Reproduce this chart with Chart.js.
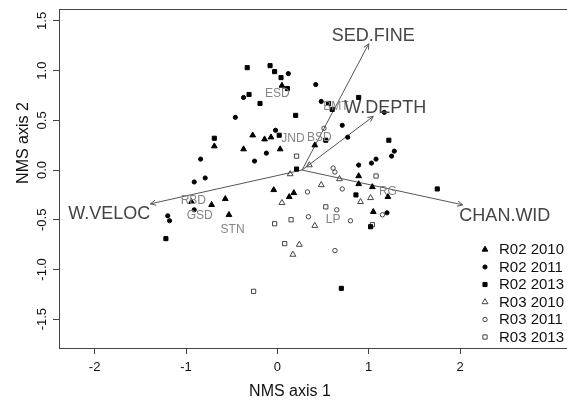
<!DOCTYPE html>
<html>
<head>
<meta charset="utf-8">
<script src="https://cdn.jsdelivr.net/npm/chart.js@4.4.1/dist/chart.umd.min.js"></script>
<style>
html, body { margin: 0; padding: 0; background: #fff; overflow: hidden; }
#wrap { width: 567px; height: 402px; }
</style>
</head>
<body>
<div id="wrap"><canvas id="nms" width="567" height="402"></canvas></div>
<script>
// NMS site scores: [axis 1, axis 2]
const r02y2010 = [[0.05, 0.85], [-0.69, 0.24], [-0.27, 0.35], [-0.14, 0.31], [-0.07, 0.33], [-0.37, 0.21],
    [0.03, 0.21], [-0.04, -0.20], [0.18, -0.23], [0.13, -0.27], [-0.57, -0.29], [-0.94, -0.32], [-0.72, -0.35],
    [-0.53, -0.45], [0.41, 0.25], [0.89, -0.06], [0.89, -0.14], [1.04, -0.17], [1.21, -0.27], [1.05, -0.42]];
const r02y2011 = [[0.12, 0.97], [-0.37, 0.73], [-0.46, 0.53], [0.42, 0.86], [-0.02, 0.40], [-0.12, 0.17],
    [-0.25, 0.09], [-0.84, 0.11], [-0.79, -0.08], [-0.91, -0.12], [-0.91, -0.40], [-1.20, -0.46], [-1.18, -0.51],
    [0.48, 0.69], [0.71, 0.45], [0.77, 0.33], [1.28, 0.19], [1.25, 0.14], [1.08, 0.11], [1.03, 0.07],
    [0.89, 0.05], [1.20, -0.43], [1.17, 0.58]];
const r02y2013 = [[-0.33, 1.03], [-0.08, 1.05], [-0.03, 0.99], [0.04, 0.93], [0.11, 0.82], [-0.31, 0.76],
    [-0.19, 0.67], [0.20, 0.55], [-0.69, 0.32], [0.02, 0.35], [0.21, 0.01], [-1.22, -0.69], [0.56, 0.67],
    [0.60, 0.61], [0.89, 0.73], [0.53, 0.30], [1.22, 0.30], [0.86, -0.25], [1.02, -0.57], [1.75, -0.19],
    [0.70, -1.19]];
const r03y2010 = [[0.35, 0.05], [0.14, -0.04], [0.05, -0.33], [0.41, -0.56], [0.24, -0.75], [0.17, -0.85],
    [0.68, -0.09], [0.48, -0.15], [0.91, -0.32], [1.02, -0.28]];
const r03y2011 = [[0.51, 0.42], [0.61, 0.02], [0.63, -0.02], [0.33, -0.22], [0.71, -0.19], [0.34, -0.47],
    [0.65, -0.40], [0.80, -0.51], [1.15, -0.45], [0.63, -0.81]];
const r03y2013 = [[0.21, 0.14], [1.08, -0.06], [-0.03, -0.54], [0.15, -0.50], [0.53, -0.37], [0.08, -0.74],
    [1.04, -0.55], [-0.26, -1.22]];

const groupNames = ['R02 2010', 'R02 2011', 'R02 2013', 'R03 2010', 'R03 2011', 'R03 2013'];

// fitted environmental vectors
const vectorNames = ['SED.FINE', 'W.DEPTH', 'W.VELOC', 'CHAN.WID'];
const vectorOrigin = [0.27, 0.0];
const vectorTips = [[1.00, 1.27], [1.05, 0.54], [-1.39, -0.34], [2.03, -0.35]];
const vectorLabelAt = [[1.05, 1.35], [1.18, 0.62], [-1.84, -0.44], [2.49, -0.46]];

// site name centroids
const siteNames = ['ESD', 'JND', 'BSD', 'BMT', 'RBD', 'GSD', 'STN', 'LP', 'RG'];
const siteLabelAt = [[0.00, 0.77], [0.17, 0.32], [0.46, 0.33], [0.64, 0.64], [-0.92, -0.31],
    [-0.85, -0.46], [-0.49, -0.60], [0.61, -0.50], [1.21, -0.22]];

const xTicks = [-2, -1, 0, 1, 2];
const yTicks = [-1.5, -1.0, -0.5, 0.0, 0.5, 1.0, 1.5];
const yTickLabels = ['-1.5', '-1.0', '-0.5', '0.0', '0.5', '1.0', '1.5'];

const FONT = "'Liberation Sans', Arial, Helvetica, sans-serif";

const toXY = (pairs) => pairs.map(([x, y]) => ({ x, y }));

const markerStyles = [
    { pointStyle: 'triangle', radius: 3.3, fill: '#000', border: '#000' },
    { pointStyle: 'circle', radius: 2.1, fill: '#000', border: '#000' },
    { pointStyle: 'rect', radius: 2.9, fill: '#000', border: '#000' },
    { pointStyle: 'triangle', radius: 3.4, fill: 'rgba(0,0,0,0)', border: '#444' },
    { pointStyle: 'circle', radius: 2.2, fill: 'rgba(0,0,0,0)', border: '#444' },
    { pointStyle: 'rect', radius: 3.0, fill: 'rgba(0,0,0,0)', border: '#444' },
];

const groups = [r02y2010, r02y2011, r02y2013, r03y2010, r03y2011, r03y2013];

const pointSets = groups.map((pairs, i) => ({
    type: 'scatter',
    label: groupNames[i],
    data: toXY(pairs),
    pointStyle: markerStyles[i].pointStyle,
    pointRadius: markerStyles[i].radius,
    pointHoverRadius: markerStyles[i].radius,
    backgroundColor: markerStyles[i].fill,
    borderColor: markerStyles[i].border,
    borderWidth: 1,
}));

const vectorSets = vectorTips.map((tip, i) => ({
    type: 'line',
    label: vectorNames[i],
    isVector: true,
    data: toXY([vectorOrigin, tip]),
    borderColor: '#555',
    borderWidth: 1,
    pointRadius: 0,
    fill: false,
}));

const overlay = {
    id: 'overlay',
    afterDatasetsDraw(chart) {
        const { ctx, scales: { x, y } } = chart;
        ctx.save();

        // arrow heads
        ctx.strokeStyle = '#555';
        ctx.lineWidth = 1;
        chart.data.datasets.forEach((ds, i) => {
            if (!ds.isVector) {
                return;
            }
            const [a, b] = chart.getDatasetMeta(i).data;
            const ang = Math.atan2(b.y - a.y, b.x - a.x);
            const len = 6;
            ctx.beginPath();
            ctx.moveTo(b.x - len * Math.cos(ang - 0.45), b.y - len * Math.sin(ang - 0.45));
            ctx.lineTo(b.x, b.y);
            ctx.lineTo(b.x - len * Math.cos(ang + 0.45), b.y - len * Math.sin(ang + 0.45));
            ctx.stroke();
        });

        ctx.textAlign = 'center';
        ctx.textBaseline = 'middle';

        // site labels
        ctx.fillStyle = '#858585';
        ctx.font = `12px ${FONT}`;
        siteNames.forEach((name, i) => {
            ctx.fillText(name, x.getPixelForValue(siteLabelAt[i][0]), y.getPixelForValue(siteLabelAt[i][1]));
        });

        // vector labels
        ctx.fillStyle = '#444';
        ctx.font = `18px ${FONT}`;
        vectorNames.forEach((name, i) => {
            ctx.fillText(name, x.getPixelForValue(vectorLabelAt[i][0]), y.getPixelForValue(vectorLabelAt[i][1]));
        });

        ctx.restore();
    },
    afterDraw(chart) {
        const { ctx, chartArea, scales: { y } } = chart;
        ctx.save();

        // top of the frame
        ctx.strokeStyle = '#444';
        ctx.lineWidth = 1;
        ctx.beginPath();
        ctx.moveTo(chartArea.left, chartArea.top + 0.5);
        ctx.lineTo(chartArea.right, chartArea.top + 0.5);
        ctx.stroke();

        // y tick labels, rotated as in R
        ctx.fillStyle = '#111';
        ctx.font = `13px ${FONT}`;
        ctx.textAlign = 'center';
        ctx.textBaseline = 'middle';
        yTicks.forEach((v, i) => {
            ctx.save();
            ctx.translate(42, y.getPixelForValue(v));
            ctx.rotate(-Math.PI / 2);
            ctx.fillText(yTickLabels[i], 0, 0);
            ctx.restore();
        });

        // axis titles
        ctx.font = `16px ${FONT}`;
        ctx.fillText('NMS axis 1', 290, 392);
        ctx.save();
        ctx.translate(24, 143);
        ctx.rotate(-Math.PI / 2);
        ctx.fillText('NMS axis 2', 0, 0);
        ctx.restore();

        // legend
        const draw = Chart.helpers && Chart.helpers.drawPoint;
        ctx.font = `15px ${FONT}`;
        ctx.textAlign = 'left';
        groupNames.forEach((name, i) => {
            const ly = 249.5 + i * 17.5;
            const m = markerStyles[i];
            ctx.fillStyle = m.fill;
            ctx.strokeStyle = m.border;
            ctx.lineWidth = 1;
            if (draw) {
                draw(ctx, { pointStyle: m.pointStyle, radius: m.radius, rotation: 0, borderWidth: 1 }, 485, ly);
            }
            ctx.fillStyle = '#111';
            ctx.fillText(name, 499, ly + 0.5);
        });

        ctx.restore();
    },
};

new Chart(document.getElementById('nms'), {
    data: { datasets: [...pointSets, ...vectorSets] },
    options: {
        responsive: false,
        devicePixelRatio: 1,
        animation: false,
        events: [],
        layout: { padding: { top: 9, right: 0, left: 0, bottom: 0 }, autoPadding: false },
        plugins: { legend: { display: false }, tooltip: { enabled: false } },
        scales: {
            x: {
                type: 'linear',
                min: -2.39,
                max: 3.17,
                afterBuildTicks: (scale) => { scale.ticks = xTicks.map((value) => ({ value })); },
                afterFit: (scale) => { scale.height = 54; },
                grid: { drawOnChartArea: false, drawTicks: true, tickLength: 6, color: '#444' },
                border: { display: true, color: '#444' },
                ticks: { color: '#111', font: { size: 13, family: FONT }, padding: 6, maxRotation: 0, callback: (v) => String(v) },
            },
            y: {
                type: 'linear',
                min: -1.79,
                max: 1.62,
                afterBuildTicks: (scale) => { scale.ticks = yTicks.map((value) => ({ value })); },
                afterFit: (scale) => { scale.width = 59; },
                grid: { drawOnChartArea: false, drawTicks: true, tickLength: 6, color: '#444' },
                border: { display: true, color: '#444' },
                ticks: { display: false },
            },
        },
    },
    plugins: [overlay],
});
</script>
</body>
</html>
